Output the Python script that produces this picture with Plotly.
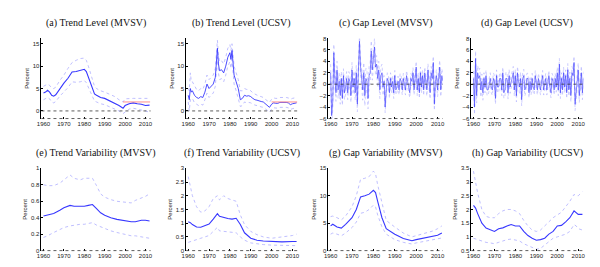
import plotly.graph_objects as go

mean_color = 'rgb(55,55,255)'
band_color = 'rgb(175,175,255)'
target_color = 'rgb(255,130,130)'
tick_font = dict(family='Liberation Sans', size=6, color='#222222')
title_font = dict(family='Liberation Serif', size=10, color='#111111')

titles = ['(a) Trend Level (MVSV)', '(b) Trend Level (UCSV)', '(c) Gap Level (MVSV)', '(d) Gap Level (UCSV)',
          '(e) Trend Variability (MVSV)', '(f) Trend Variability (UCSV)', '(g) Gap Variability (MVSV)',
          '(h) Gap Variability (UCSV)']
year_ticks = [1960, 1970, 1980, 1990, 2000, 2010]

# (a) trend level, MVSV
a_years = [1960, 1961, 1962, 1963, 1964, 1965, 1966, 1968, 1970, 1972, 1974, 1976, 1978, 1980, 1981, 1982,
           1984, 1985, 1986, 1988, 1990, 1993, 1995, 1997, 1999, 2000, 2002, 2004, 2006, 2008, 2010, 2012]
a_mean = [4.0, 4.2, 4.6, 4.2, 3.5, 3.3, 3.6, 5.0, 6.2, 7.3, 8.7, 8.8, 9.1, 9.3, 8.8, 7.5,
          5.0, 3.8, 3.5, 3.0, 2.8, 2.1, 1.8, 1.2, 0.6, 1.2, 1.6, 1.8, 1.6, 1.5, 1.2, 1.3]
a_upper = [5.5, 5.8, 6.0, 5.7, 5.1, 5.0, 5.3, 6.8, 8.0, 9.5, 10.8, 11.3, 11.7, 11.8, 11.3, 10.0,
           7.0, 5.5, 5.0, 4.5, 4.2, 3.5, 3.2, 2.5, 2.0, 2.7, 2.8, 2.8, 2.8, 2.8, 2.7, 2.8]
a_lower = [2.5, 2.7, 3.0, 2.7, 2.0, 1.8, 2.1, 3.3, 4.3, 5.2, 6.5, 6.4, 6.5, 6.8, 6.3, 5.2,
           3.1, 2.2, 2.0, 1.6, 1.4, 0.8, 0.5, 0.0, -0.6, -0.2, 0.4, 0.6, 0.4, 0.3, 0.0, -0.3]
a_target_years = [1999, 2012.3]
a_target = [2, 2]

# (b) trend level, UCSV
b_years = [1960, 1960.5, 1961, 1961.5, 1962, 1963, 1964, 1965, 1966, 1967, 1968, 1969, 1970, 1971, 1972,
           1973, 1973.5, 1974, 1974.5, 1975, 1976, 1977, 1978, 1979, 1980, 1980.5, 1981, 1981.5, 1982,
           1983, 1984, 1985, 1986, 1987, 1988, 1989, 1990, 1991, 1992, 1993, 1994, 1995, 1996, 1997,
           1998, 1999, 2000, 2001, 2002, 2003, 2004, 2005, 2006, 2007, 2008, 2009, 2010, 2011, 2012]
b_mean = [3.5, 2.5, 5.0, 4.2, 4.5, 3.5, 3.0, 2.8, 3.2, 3.0, 4.2, 6.0, 5.0, 5.5, 6.0,
          7.5, 11.0, 14.0, 10.5, 9.0, 9.2, 8.5, 10.0, 12.0, 13.0, 11.5, 13.5, 10.5, 8.0,
          6.5, 5.0, 2.5, 2.8, 3.5, 3.3, 3.4, 3.2, 2.8, 2.5, 2.4, 2.2, 2.1, 2.0, 1.6,
          1.2, 0.8, 1.5, 1.8, 1.7, 1.7, 1.9, 1.9, 2.0, 1.9, 1.8, 1.4, 1.6, 1.7, 1.8]
b_upper = [5.0, 4.5, 8.5, 6.5, 6.5, 5.5, 4.8, 4.5, 5.0, 4.8, 6.0, 8.0, 7.0, 7.5, 8.0,
           9.5, 13.5, 15.8, 12.5, 11.0, 11.2, 10.5, 12.0, 14.0, 14.8, 13.5, 15.0, 12.5, 10.0,
           8.5, 7.0, 4.5, 4.5, 5.0, 4.8, 4.8, 4.5, 4.0, 3.7, 3.5, 3.3, 3.2, 3.0, 2.6,
           2.2, 1.9, 2.6, 2.9, 2.8, 2.8, 3.0, 3.0, 3.1, 3.0, 2.9, 2.6, 2.8, 2.9, 3.0]
b_lower = [2.0, 0.0, 2.5, 2.5, 2.8, 1.8, 1.5, 1.2, 1.5, 1.3, 2.5, 4.0, 3.0, 3.5, 4.0,
           5.5, 9.0, 12.0, 8.5, 7.0, 7.2, 6.5, 8.0, 10.0, 11.0, 9.5, 11.5, 8.5, 6.0,
           4.5, 3.0, 1.0, 1.2, 2.0, 1.8, 1.9, 1.8, 1.5, 1.3, 1.2, 1.0, 0.9, 0.8, 0.5,
           0.1, -0.3, 0.4, 0.7, 0.6, 0.6, 0.8, 0.8, 0.9, 0.8, 0.7, 0.3, 0.5, 0.6, 0.7]
b_target_years = [2000, 2012.3]
b_target = [2, 2]

# (c), (d) gap levels, two observations per year from 1960 to 2012
c_gap = [2, -5.5, -3, 5.5, 1, -1.5, 2.5, -1, 0.5, -2, 1, -2.5, 1.5, -1.5, -0.5, 1, -1.5, 1, 0.5, -2,
         2.5, -0.5, 1, -1.5, 2, -3.5, 2.5, 7.5, 3, 0.5, -1, 2, -2, 1, 0.5, -2.5, 1.5, 2, 5.8, 2.5,
         4, 6.5, 3, 3.5, 1, 2.5, -1, 1.5, 2, -0.5, 0.5, -4, -1, 1, 0.5, -1.5, 1, -0.5, 0.5, -1.5,
         1.5, -1, -0.5, 0.5, -1, 1, 0.5, -1, 1, -0.5, -1, 1.5, 0.5, -1, -1.5, 1, 0.5, 2, -1, 1,
         3, -1, 1, -1.5, 2, -0.5, 1.5, -1, 2, 0.5, -1, 2.5, 0.5, -1.5, 2, 1, 3.8, -3.5, 0.5, 1.5,
         -1, 2, 3, -1, 1.5, 0.5]
d_gap = [1, -4, 4.5, -2, 2, 1, 1.5, -1, 0.5, -1.5, 1, -0.5, 1.5, -1, -1, 0.5, 1, -0.5, -1, 1,
         0.5, -2.5, 1.5, -0.5, -0.5, 1, 1, -1, 2, -1.5, -1, 1, 1, -1.5, 1.5, -0.5, 0.5, 1.5, 2, -1,
         1.5, -2, 2, 0.5, -0.5, 1, -2.7, 1, 1.5, -1, -0.5, 1, 1, -1.5, 0.5, -1, 1, -0.5, -1, 1.5,
         0.5, -1, 1, -0.5, -1, 0.5, 1.5, -1, 0.5, 1, -1, 0.5, 1.5, -0.5, -1.5, 1, 0.5, -1, 1, -0.5,
         2, -1, 3.5, -1.5, 1, -1, 2, -0.5, 1.5, -1.5, 2.5, -1, 1, -2, 2, 1.5, 3.8, -3.5, -1, 1.5,
         2.5, -2, 1, 2, -1.5, 1]
# band half-widths per five-year block (1960-64, 1965-69, ...)
c_band = [1.5, 1.2, 1.3, 1.8, 1.5, 1.0, 0.9, 0.9, 1.0, 1.1, 1.2]
d_band = [1.3, 1.0, 1.0, 1.1, 1.1, 0.9, 0.9, 0.9, 1.0, 1.1, 1.2]

# (e) trend variability, MVSV
e_years = [1960, 1962, 1965, 1968, 1970, 1973, 1975, 1978, 1980, 1982, 1984, 1986, 1988, 1990, 1993,
           1996, 2000, 2003, 2005, 2008, 2010, 2012]
e_mean = [0.42, 0.43, 0.45, 0.49, 0.52, 0.55, 0.54, 0.54, 0.54, 0.55, 0.56, 0.51, 0.46, 0.43, 0.40,
          0.38, 0.36, 0.35, 0.35, 0.37, 0.37, 0.36]
e_upper = [0.80, 0.79, 0.79, 0.82, 0.86, 0.92, 0.88, 0.86, 0.88, 0.88, 0.88, 0.79, 0.69, 0.65, 0.62,
           0.60, 0.59, 0.58, 0.61, 0.64, 0.66, 0.69]
e_lower = [0.16, 0.18, 0.22, 0.26, 0.28, 0.30, 0.31, 0.32, 0.32, 0.33, 0.34, 0.31, 0.29, 0.27, 0.24,
           0.22, 0.20, 0.18, 0.18, 0.17, 0.16, 0.15]

# (f) trend variability, UCSV
f_years = [1960, 1961, 1962, 1964, 1966, 1968, 1970, 1972, 1974, 1975, 1977, 1979, 1981, 1983, 1985,
           1987, 1990, 1993, 1996, 2000, 2005, 2010, 2012]
f_mean = [1.05, 1.02, 0.95, 0.86, 0.85, 0.92, 0.97, 1.15, 1.35, 1.25, 1.20, 1.17, 1.15, 1.18, 0.95,
          0.65, 0.45, 0.38, 0.35, 0.33, 0.32, 0.33, 0.33]
f_upper = [2.70, 2.30, 2.00, 1.60, 1.40, 1.45, 1.60, 1.90, 2.00, 1.85, 2.00, 1.90, 1.85, 1.80, 1.30,
           0.95, 0.70, 0.58, 0.50, 0.45, 0.50, 0.55, 0.60]
f_lower = [0.30, 0.33, 0.36, 0.40, 0.45, 0.50, 0.55, 0.70, 0.85, 0.72, 0.70, 0.70, 0.68, 0.65, 0.50,
           0.38, 0.28, 0.24, 0.22, 0.20, 0.19, 0.18, 0.18]

# (g) gap variability, MVSV
g_years = [1960, 1961, 1963, 1965, 1967, 1970, 1972, 1974, 1976, 1978, 1980, 1981, 1982, 1984, 1986,
           1990, 1994, 1998, 2000, 2004, 2008, 2010, 2012]
g_mean = [4.5, 4.8, 4.3, 4.1, 4.8, 6.0, 7.5, 9.8, 10.0, 10.3, 11.0, 10.6, 9.0, 6.0, 4.0,
          3.0, 2.2, 1.8, 2.0, 2.3, 2.6, 2.8, 3.2]
g_upper = [6.2, 6.3, 6.0, 5.6, 6.3, 8.0, 10.0, 13.0, 13.2, 13.5, 14.5, 14.0, 12.0, 8.5, 5.5,
           4.3, 3.2, 2.5, 2.7, 3.2, 3.6, 4.0, 4.5]
g_lower = [3.0, 3.2, 3.0, 2.7, 3.2, 4.2, 5.2, 6.8, 7.0, 7.5, 8.3, 8.0, 6.5, 4.3, 3.0,
           2.0, 1.5, 1.2, 1.4, 1.7, 1.9, 2.1, 2.3]

# (h) gap variability, UCSV
h_years = [1960, 1961, 1962, 1964, 1966, 1968, 1970, 1972, 1974, 1976, 1978, 1980, 1982, 1984, 1986,
           1988, 1990, 1992, 1994, 1996, 1998, 2000, 2002, 2004, 2006, 2008, 2009, 2010, 2012]
h_mean = [2.15, 2.05, 1.85, 1.50, 1.32, 1.25, 1.20, 1.30, 1.33, 1.40, 1.45, 1.40, 1.40, 1.20, 1.05,
          0.95, 0.88, 0.90, 0.95, 1.10, 1.20, 1.40, 1.42, 1.55, 1.70, 1.95, 1.90, 1.82, 1.82]
h_upper = [3.40, 3.00, 2.60, 2.00, 1.75, 1.70, 1.70, 1.85, 1.95, 2.00, 2.00, 1.95, 1.85, 1.60, 1.40,
           1.25, 1.20, 1.25, 1.40, 1.55, 1.70, 1.80, 1.90, 2.10, 2.30, 2.55, 2.50, 2.50, 2.65]
h_lower = [0.95, 0.92, 0.90, 0.85, 0.80, 0.78, 0.75, 0.80, 0.85, 0.90, 0.92, 0.88, 0.85, 0.75, 0.68,
           0.60, 0.55, 0.58, 0.70, 0.80, 0.95, 1.00, 1.05, 1.10, 1.20, 1.45, 1.40, 1.30, 1.25]

# y axis settings per panel
y_ranges = [[-1.7, 16.2], [-1.7, 16.2], [-6, 8], [-6, 8], [0, 1], [0, 3], [0, 15], [0.5, 3.5]]
y_ticks = [[0, 5, 10, 15], [0, 5, 10, 15], [-6, -4, -2, 0, 2, 4, 6, 8], [-6, -4, -2, 0, 2, 4, 6, 8],
           [0, 0.2, 0.4, 0.6, 0.8, 1], [0, 0.5, 1, 1.5, 2, 2.5, 3], [0, 5, 10, 15],
           [0.5, 1, 1.5, 2, 2.5, 3, 3.5]]

col_domains = [[0.048, 0.232], [0.292, 0.48], [0.532, 0.725], [0.773, 0.962]]
row_domains = [[0.588, 0.895], [0.082, 0.397]]

fig = go.Figure()


def plot_line(fig, n, x, y, color, width, dash='solid'):
    fig.add_trace(go.Scatter(x=x, y=y, mode='lines', hoverinfo='none', showlegend=False,
                             xaxis='x' + ('' if n == 1 else str(n)), yaxis='y' + ('' if n == 1 else str(n)),
                             line=dict(color=color, width=width, dash=dash)))


def plot_band(fig, n, x, mean, upper, lower, width=1.1):
    plot_line(fig, n, x, upper, band_color, 0.8, 'dot')
    plot_line(fig, n, x, lower, band_color, 0.8, 'dot')
    plot_line(fig, n, x, mean, mean_color, width)


plot_band(fig, 1, a_years, a_mean, a_upper, a_lower)
plot_line(fig, 1, a_target_years, a_target, target_color, 0.9)
plot_band(fig, 2, b_years, b_mean, b_upper, b_lower, 0.9)
plot_line(fig, 2, b_target_years, b_target, target_color, 0.9)

gap_dates = [1960 + 0.5 * i for i in range(len(c_gap))]
for n, gap, band in [(3, c_gap, c_band), (4, d_gap, d_band)]:
    half = [band[min(int((d - 1960) // 5), len(band) - 1)] for d in gap_dates]
    plot_line(fig, n, gap_dates, [g + h for g, h in zip(gap, half)], band_color, 0.6, 'dot')
    plot_line(fig, n, gap_dates, [g - h for g, h in zip(gap, half)], band_color, 0.6, 'dot')
    plot_line(fig, n, gap_dates, gap, mean_color, 0.6)

plot_band(fig, 5, e_years, e_mean, e_upper, e_lower)
plot_band(fig, 6, f_years, f_mean, f_upper, f_lower)
plot_band(fig, 7, g_years, g_mean, g_upper, g_lower)
plot_band(fig, 8, h_years, h_mean, h_upper, h_lower)

layout = dict(
    width=600, height=267,
    margin=dict(l=0, r=0, t=0, b=0),
    paper_bgcolor='white',
    plot_bgcolor='white',
    font=tick_font,
)
shapes = []
annotations = []
for i in range(8):
    n = i + 1
    s = '' if n == 1 else str(n)
    row, col = divmod(i, 4)
    layout['xaxis' + s] = dict(
        domain=col_domains[col], anchor='y' + s, range=[1959, 2012.5],
        tickvals=year_ticks, ticks='inside', ticklen=2, tickcolor='black',
        showgrid=False, zeroline=False, showline=False, tickfont=tick_font)
    layout['yaxis' + s] = dict(
        domain=row_domains[row], anchor='x' + s, range=y_ranges[i], tickvals=y_ticks[i],
        ticks='inside', ticklen=2, tickcolor='black', showgrid=False, zeroline=False,
        showline=True, linecolor='black', linewidth=0.8, tickfont=tick_font,
        title=dict(text='Percent', font=tick_font, standoff=2))
    # dotted bottom axis
    shapes.append(dict(type='line', xref='x' + s + ' domain', yref='y' + s + ' domain',
                       x0=0, x1=1, y0=0, y1=0, line=dict(color='#333333', width=0.8, dash='dot')))
    if y_ranges[i][0] < 0:
        shapes.append(dict(type='line', xref='x' + s + ' domain', yref='y' + s,
                           x0=0, x1=1, y0=0, y1=0, line=dict(color='#333333', width=0.8, dash='dot')))
    annotations.append(dict(text=titles[i], xref='x' + s + ' domain', yref='paper',
                            x=0.5, y=1 - (12 if row == 0 else 145) / 267, xanchor='center',
                            yanchor='middle', showarrow=False, font=title_font))
layout['shapes'] = shapes
layout['annotations'] = annotations
fig.update_layout(**layout)

fig.write_html("out.html")
